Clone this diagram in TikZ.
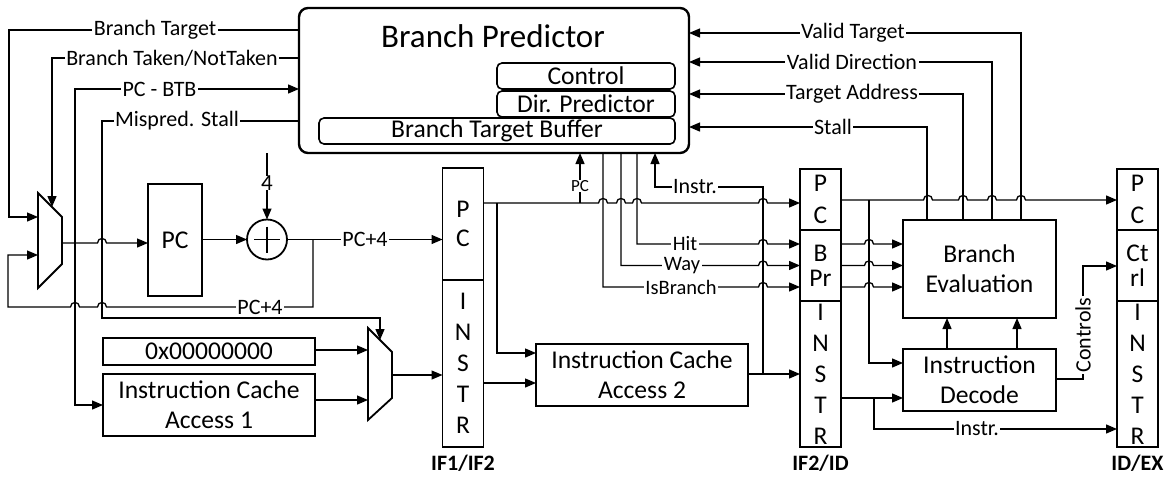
\documentclass[tikz,border=0pt]{standalone}
\usepackage{fontspec}
\setmainfont{Carlito}
\usetikzlibrary{arrows.meta}
\newcommand\hopR[2]{-- ({#1-4.5},#2) .. controls ({#1-4.5},{#2-6}) and ({#1+4.5},{#2-6}) .. ({#1+4.5},#2)}
\newcommand\hopL[2]{-- ({#1+4.5},#2) .. controls ({#1+4.5},{#2-6}) and ({#1-4.5},{#2-6}) .. ({#1-4.5},#2)}
\begin{document}
\begin{tikzpicture}[x=1pt,y=-1pt,line width=1.3pt,
  >={Triangle[length=11pt,width=9pt]},
  every node/.style={outer sep=0pt},
  box/.style={draw,line width=1.8pt,inner sep=0pt,align=center,font=\fontsize{25.6}{30}\selectfont},
  sub/.style={draw,line width=1.6pt,rounded corners=5pt,inner sep=0pt,font=\fontsize{25.6}{30}\selectfont},
  reg/.style={draw,line width=1.8pt,inner sep=0pt,minimum width=41pt,align=center,font=\fontsize{25.5}{31}\selectfont},
  lab/.style={fill=white,inner xsep=1.5pt,inner ysep=0pt,font=\fontsize{22}{24}\selectfont},
  tight/.style={font=\fontsize{20.5}{22}\selectfont,inner ysep=-1pt},
  stage/.style={font=\bfseries\fontsize{22}{24}\selectfont}]
\useasboundingbox (0,0) rectangle (1167,477);

% ---------- Branch predictor ----------
\node[draw,line width=2.4pt,rounded corners=9pt,minimum width=390pt,minimum height=145pt] (bp) at (494,80.5) {};
\node[font=\fontsize{33}{36}\selectfont] (bptitle) at (493,36) {Branch Predictor};
\node[sub,minimum width=178pt,minimum height=26pt] (ctrl) at (586,76) {Control};
\node[sub,minimum width=178pt,minimum height=26pt] (dirp) at (586,104) {Dir. Predictor};
\node[sub,minimum width=356pt,minimum height=26pt] (btb) at (497,131) {Branch Target Buffer};

% ---------- left part ----------
\draw[line width=1.8pt] (38,193) -- (62,217) -- (62,264) -- (38,288) -- cycle;
\coordinate (m1a) at (38,217);
\coordinate (m1b) at (38,255);
\coordinate (m1s) at (52,207);
\coordinate (m1o) at (62,243);
\node[box,minimum width=54pt,minimum height=112pt] (pc) at (175,240) {PC};
\node[draw,circle,line width=1.8pt,minimum size=40pt,inner sep=0pt] (add) at (267,239.5) {};
\draw[line width=1.8pt] (254,239.5) -- (280,239.5) (267,226.5) -- (267,252.5);
\coordinate (four) at (267,153);

\node[box,minimum width=212pt,minimum height=27pt] (zero) at (209,351.5) {0x00000000};
\node[box,minimum width=212pt,minimum height=62pt] (ic1) at (209,405) {Instruction Cache\\Access 1};
\draw[line width=1.8pt] (368,328) -- (392,352) -- (392,398) -- (368,420) -- cycle;
\coordinate (m2s) at (380,340);
\coordinate (m2o) at (392,375);

% ---------- pipeline registers ----------
\node[reg,minimum height=112pt,font=\fontsize{25.5}{29}\selectfont] (r1pc) at (463,224) {P\\C};
\node[reg,minimum height=167pt,font=\fontsize{25.5}{31}\selectfont] (r1in) at (463,363.5) {I\\N\\S\\T\\R};
\node[stage] (s1) at (463,463) {IF1/IF2};

\node[reg,minimum height=61pt,font=\fontsize{25.5}{32}\selectfont] (r2pc) at (820.5,199.5) {P\\C};
\node[reg,minimum height=71pt,font=\fontsize{25.5}{25}\selectfont] (r2bp) at (820.5,265.5) {B\\Pr};
\node[reg,minimum height=146pt,font=\fontsize{25.5}{31}\selectfont] (r2in) at (820.5,374) {I\\N\\S\\T\\R};
\node[stage] (s2) at (820.5,463) {IF2/ID};

\node[reg,minimum height=61pt,font=\fontsize{25.5}{32}\selectfont] (r3pc) at (1137.5,199.5) {P\\C};
\node[reg,minimum height=71pt,font=\fontsize{25.5}{25}\selectfont] (r3ct) at (1137.5,265.5) {Ct\\rl};
\node[reg,minimum height=146pt,font=\fontsize{25.5}{31}\selectfont] (r3in) at (1137.5,374) {I\\N\\S\\T\\R};
\node[stage] (s3) at (1137.5,463) {ID/EX};

\node[box,minimum width=212pt,minimum height=62pt] (ic2) at (642,375) {Instruction Cache\\Access 2};
\node[box,minimum width=153pt,minimum height=98pt] (be) at (979.5,269) {Branch\\Evaluation};
\node[box,minimum width=153pt,minimum height=62pt] (id) at (979.5,380) {Instruction\\Decode};

% ---------- connectors: left ----------
\draw[->] (299,30) -- (9,30) -- (9,217) -- (m1a);
\draw[->] (299,58) -- (52,58) -- (m1s);
\draw[->] (75,243) -- (75,89) -- (299,89);
\draw[->] (75,243) -- (75,405) -- (ic1.west |- 0,405);
\draw[->] (299,121) -- (102,121) -- (102,318) -- (380,318) -- (m2s);
\draw[->] (m1o) \hopR{102}{243} -- (pc.west |- 0,243);
\draw[->] (pc.east |- add) -- (add);
\draw[->] (four) -- (add.north);
\draw[->] (add.east) -- (r1pc.west |- add);
\draw[->] (313,239.5) -- (313,307) \hopL{102}{307} \hopL{75}{307} -- (8,307) -- (8,255) -- (m1b);
\draw[->] (zero.east |- 0,350) -- (368,350);
\draw[->] (ic1.east |- 0,400) -- (368,400);
\draw[->] (m2o) -- (r1in.west |- m2o);

% ---------- connectors: middle ----------
\draw[->] (483,203) \hopR{603}{203} \hopR{621}{203} \hopR{637}{203} \hopR{763}{203} -- (800,203);
\draw[->] (497,203) -- (497,353) -- (ic2.west |- 0,353);
\draw[->] (580,203) -- (580,153);
\draw[->] (483,383) -- (ic2.west |- 0,383);
\draw[->] (ic2.east |- 0,374) -- (800,374);
\draw[->] (763,374) -- (763,187) -- (655,187) -- (655,153);
\draw[->] (637,153) -- (637,244) \hopR{763}{244} -- (800,244);
\draw[->] (621,153) -- (621,265.5) \hopR{763}{265.5} -- (800,265.5);
\draw[->] (603,153) -- (603,287) \hopR{763}{287} -- (800,287);

% ---------- connectors: right ----------
\draw[->] (841,200) \hopR{928}{200} \hopR{963}{200} \hopR{992}{200} \hopR{1021}{200} -- (1117,200);
\draw[->] (869,200) -- (869,363) -- (id.west |- 0,363);
\draw[->] (841,244) \hopR{869}{244} -- (be.west |- 0,244);
\draw[->] (841,265.5) \hopR{869}{265.5} -- (be.west |- 0,265.5);
\draw[->] (841,287) \hopR{869}{287} -- (be.west |- 0,287);
\draw[->] (841,398) -- (id.west |- 0,398);
\draw[->] (874,398) -- (874,429) -- (1117,429);
\draw[->] (id.north -| 947,0) -- (be.south -| 947,0);
\draw[->] (id.north -| 1017,0) -- (be.south -| 1017,0);
\draw[->] (id.east |- 0,379) -- (1083,379) -- (1083,266) -- (1117,266);
\draw[->] (be.north -| 927,0) -- (927,127) -- (689,127);
\draw[->] (be.north -| 963,0) -- (963,94) -- (689,94);
\draw[->] (be.north -| 992,0) -- (992,62) -- (689,62);
\draw[->] (be.north -| 1021,0) -- (1021,33) -- (689,33);

% ---------- labels ----------
\node[lab] (lbt) at (155,30) {Branch Target};
\node[lab] (lbtn) at (172,58) {Branch Taken/NotTaken};
\node[lab] (lpcb) at (159.5,89) {PC - BTB};
\node[lab] (lmis) at (177,121) {Mispred. Stall};
\node[lab,font=\fontsize{23}{24}\selectfont] (l4) at (267,183) {4};
\node[lab] (lpc4a) at (365,239.5) {PC+4};
\node[lab] (lpc4b) at (260,307) {PC+4};
\node[lab,font=\fontsize{17}{20}\selectfont] (lpc) at (580,186) {PC};
\node[lab] (linstr) at (695,187) {Instr.};
\node[lab,tight] (lhit) at (685,243.5) {Hit};
\node[lab,tight] (lway) at (682,266) {Way};
\node[lab,tight] (lisb) at (681,287.5) {IsBranch};
\node[lab] (linstr2) at (977,429) {Instr.};
\node[lab,rotate=90] (lctl) at (1083,335) {Controls};
\node[lab] (lstall) at (833,127) {Stall};
\node[lab] (lta) at (852,94) {Target Address};
\node[lab] (lvd) at (852,62) {Valid Direction};
\node[lab] (lvt) at (853,33) {Valid Target};
\end{tikzpicture}
\end{document}
